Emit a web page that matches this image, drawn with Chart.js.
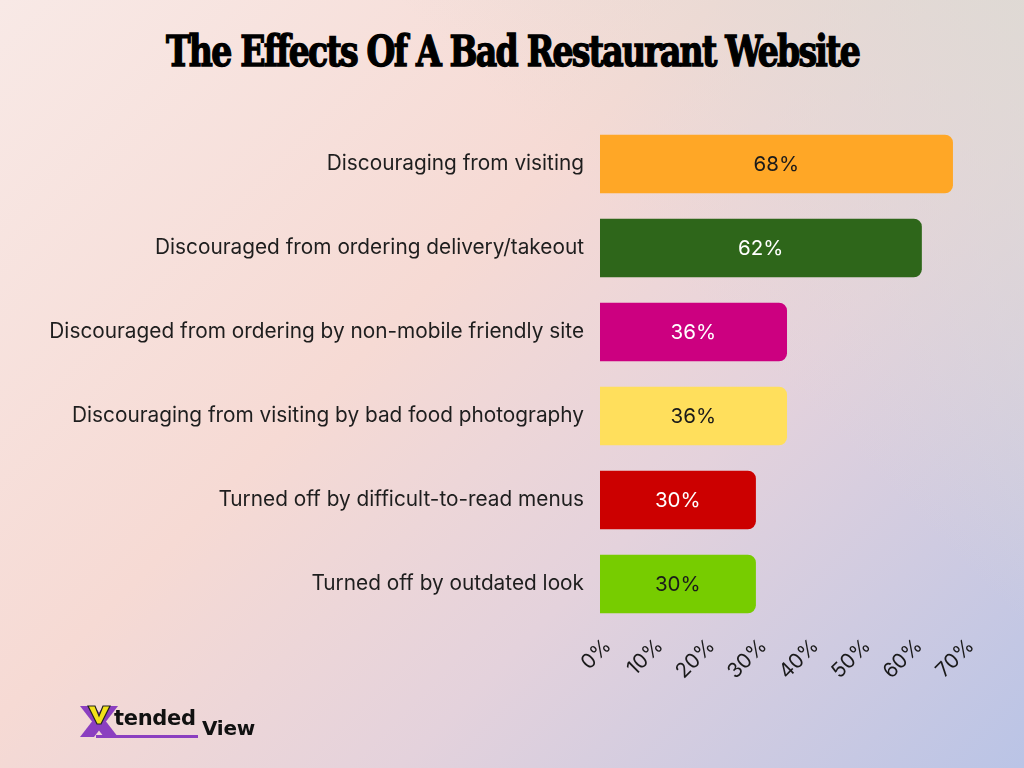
<!DOCTYPE html>
<html><head><meta charset="utf-8">
<script src="https://cdn.jsdelivr.net/npm/chart.js@4.4.0/dist/chart.umd.min.js"></script>
<style>
html,body{margin:0;padding:0;width:1024px;height:768px;overflow:hidden;}
body{position:relative;background:
 linear-gradient(135deg, rgba(248,233,230,1) 0%, rgba(246,218,212,1) 40%, rgba(228,210,220,1) 65%, rgba(186,196,230,1) 100%);}
#bg2{position:absolute;left:0;top:0;width:1024px;height:768px;background:linear-gradient(225deg, rgba(222,218,212,0.9) 0%, rgba(222,218,212,0) 35%);}
#title{position:absolute;left:0;top:27px;width:1024px;text-align:center;white-space:nowrap;}
#title span{display:inline-block;font-family:"DejaVu Serif Condensed","DejaVu Serif",serif;font-weight:bold;font-stretch:condensed;font-size:42px;color:#000;letter-spacing:-2px;transform-origin:center;-webkit-text-stroke:1.3px #000;}
#wrap{position:absolute;left:0;top:0;width:1024px;height:768px;}
#logo{position:absolute;left:78px;top:700px;width:200px;height:46px;font-family:"DejaVu Sans",sans-serif;}
</style></head>
<body>
<div id="bg2"></div>
<div id="title"><span id="tt">The Effects Of A Bad Restaurant Website</span></div>
<div id="wrap"><canvas id="c" width="1024" height="768"></canvas></div>
<div id="logo">
 <svg style="position:absolute;left:0;top:0" width="200" height="46">
  <polygon points="2,6 16,6 40,37 26,37" fill="#8B3FC0"/>
  <polygon points="26,6 40,6 16,37 2,37" fill="#8B3FC0"/>
  <polygon points="10,6 17,6 21,16 25,6 32,6 23,24 19,24" fill="#F2E21A" stroke="#222" stroke-width="1.2"/>
  <rect x="18" y="35" width="102" height="3" fill="#8B3FC0"/>
 </svg>
 <span style="position:absolute;left:36px;top:6px;font-size:21px;font-weight:bold;color:#111;letter-spacing:-0.3px;">tended</span>
 <span style="position:absolute;left:124px;top:16px;font-size:20px;font-weight:bold;color:#111;letter-spacing:-0.3px;">View</span>
</div>
<script>
const categories = [
 "Discouraging from visiting",
 "Discouraged from ordering delivery/takeout",
 "Discouraged from ordering by non-mobile friendly site",
 "Discouraging from visiting by bad food photography",
 "Turned off by difficult-to-read menus",
 "Turned off by outdated look"
];
const values = [68, 62, 36, 36, 30, 30];
const barColors = ["#FFA726", "#2E661A", "#CC0080", "#FFDF5C", "#CC0000", "#77CC00"];
const labelColors = ["#1a1a1a", "#ffffff", "#ffffff", "#1a1a1a", "#ffffff", "#1a1a1a"];
const tickValues = [0, 10, 20, 30, 40, 50, 60, 70];

// fit title width
const tt = document.getElementById('tt');
const w = tt.getBoundingClientRect().width;
tt.style.transform = 'scaleX(' + (693 / w) + ')';

const FONT = "Inter, 'Noto Sans', sans-serif";

const valueLabels = {
 id: 'valueLabels',
 afterDatasetsDraw(chart) {
  const ctx = chart.ctx;
  const meta = chart.getDatasetMeta(0);
  ctx.save();
  ctx.font = "20.5px " + FONT;
  ctx.textAlign = 'center';
  ctx.textBaseline = 'middle';
  meta.data.forEach((bar, i) => {
   const cx = (bar.x + bar.base) / 2;
   ctx.fillStyle = labelColors[i];
   ctx.fillText(values[i] + '%', cx, bar.y + 1);
  });
  ctx.restore();
 }
};

new Chart(document.getElementById('c'), {
 type: 'bar',
 data: {
  labels: categories,
  datasets: [{
   data: values,
   backgroundColor: barColors,
   borderRadius: 8,
   borderSkipped: 'start',
   barThickness: 58
  }]
 },
 options: {
  indexAxis: 'y',
  responsive: false,
  animation: false,
  devicePixelRatio: 1,
  layout: { padding: { top: 122, right: 61, bottom: 62, left: 0 } },
  plugins: { legend: { display: false }, title: { display: false }, tooltip: { enabled: false } },
  scales: {
   x: {
    min: 0, max: 70,
    afterBuildTicks(scale) { scale.ticks = tickValues.map(v => ({ value: v })); },
    afterFit(scale) { scale.height = 80; },
    grid: { display: false, drawTicks: false },
    border: { display: false },
    ticks: {
     minRotation: 45, maxRotation: 45, padding: 8, labelOffset: 8,
     color: '#1a1a1a',
     font: { family: FONT, size: 20.5 },
     callback: v => v + '%'
    }
   },
   y: {
    afterFit(scale) { scale.width = 600; },
    grid: { display: false, drawTicks: false },
    border: { display: false },
    ticks: {
     padding: 16,
     color: '#1e1e1e',
     font: { family: FONT, size: 20.8 }
    }
   }
  }
 },
 plugins: [valueLabels]
});
</script>
</body></html>
